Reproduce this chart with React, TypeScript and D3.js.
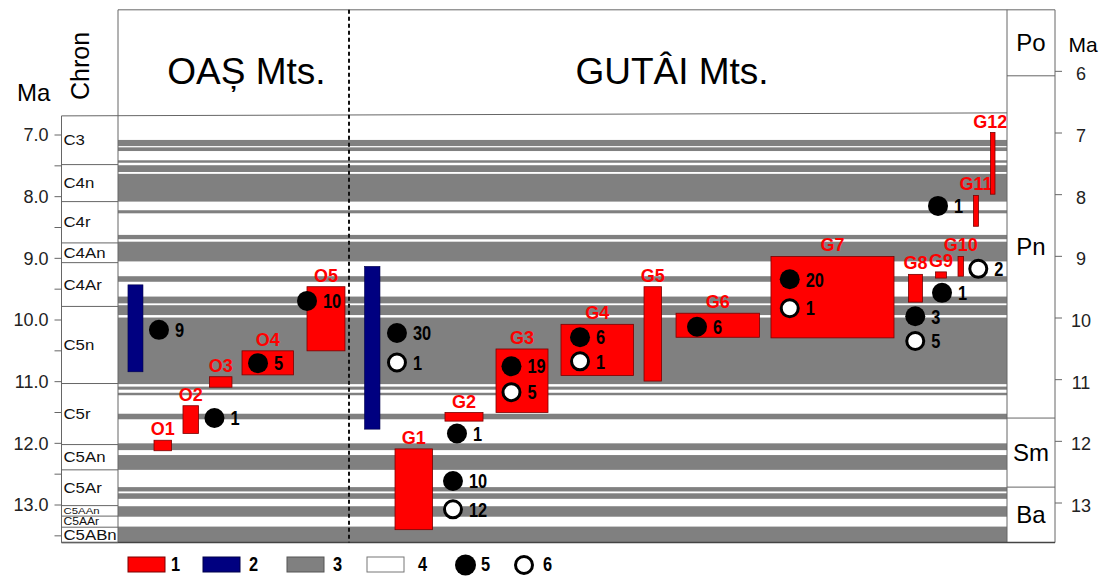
import * as d3 from "d3";
import React from "react";

// normal polarity intervals (gray), Ma
const normalChrons = [
  [7.08, 7.18], [7.2, 7.26], [7.41, 7.45], [7.49, 7.6], [7.63, 8.08],
  [8.22, 8.27], [8.62, 8.69], [8.73, 9.05], [9.29, 9.38], [9.62, 9.73],
  [9.76, 9.92], [9.96, 11.04], [11.08, 11.13], [11.18, 11.22], [11.52, 11.61],
  [12.0, 12.11], [12.19, 12.43], [12.71, 12.78], [12.81, 12.9], [13.02, 13.19],
  [13.35, 13.61],
];

const chronNames = ["C3", "C4n", "C4r", "C4An", "C4Ar", "C5n", "C5r", "C5An", "C5Ar", "C5AAn", "C5AAr", "C5ABn"];
const chronBounds = [6.69, 7.48, 8.08, 8.75, 9.07, 9.78, 11.03, 12.02, 12.43, 13.01, 13.18, 13.36, 13.61];

const epochNames = ["Po", "Pn", "Sm", "Ba"];
const epochBounds = [4.97, 6.04, 11.59, 12.71, 13.61];

const leftTicks = [7, 8, 9, 10, 11, 12, 13];
const leftMinorTicks = [7.5, 8.5, 9.5, 10.5, 11.5, 12.5, 13.5];
const rightTicks = [6, 7, 8, 9, 10, 11, 12, 13];

// 2 - blue ranges [x0, x1, top Ma, bottom Ma]
const blueRanges = [
  [1.12, 2.81, 9.43, 10.84],
  [27.73, 29.47, 9.13, 11.77],
];

// 1 - red ranges
const redNames = ["O1", "O2", "O3", "O4", "O5", "G1", "G2", "G3", "G4", "G5", "G6", "G7", "G8", "G9", "G10", "G11", "G12"];
const redX0 = [4.05, 7.31, 10.29, 13.95, 21.26, 31.16, 36.78, 42.52, 49.83, 59.17, 62.77, 73.45, 88.92, 91.96, 94.49, 96.23, 98.14];
const redX1 = [6.02, 9.06, 12.82, 19.74, 25.53, 35.38, 41.06, 48.37, 57.99, 61.14, 72.16, 87.29, 90.49, 93.19, 95.11, 96.79, 98.65];
const redTop = [11.95, 11.39, 10.92, 10.5, 9.46, 12.09, 11.5, 10.47, 10.07, 9.46, 9.89, 8.97, 9.26, 9.22, 8.97, 7.98, 6.96];
const redBottom = [12.12, 11.84, 11.09, 10.89, 10.5, 13.4, 11.64, 11.5, 10.9, 10.99, 10.28, 10.29, 9.71, 9.32, 9.29, 8.48, 7.96];

// 5 (filled) / 6 (open) symbols: [x, Ma, count]
const filledDots = [
  [4.61, 10.16, 9], [10.85, 11.59, 1], [15.75, 10.7, 5], [21.26, 9.69, 10],
  [31.38, 10.21, 30], [37.68, 12.61, 10], [38.13, 11.84, 1], [44.26, 10.75, 19],
  [51.97, 10.28, 6], [65.13, 10.11, 6], [75.56, 9.34, 20], [89.68, 9.94, 3],
  [92.69, 9.56, 1], [92.24, 8.15, 1],
];
const openDots = [
  [31.38, 10.69, 1], [37.68, 13.07, 12], [44.26, 11.17, 5], [51.97, 10.67, 1],
  [75.56, 9.81, 1], [89.68, 10.34, 5], [96.77, 9.17, 2],
];

const legendLabels = ["1", "2", "3", "4", "5", "6"];

const red = "#ff0000";
const navy = "#000080";
const gray = "#808080";
const frame = "#666";
const sans = "'Liberation Sans', Arial, sans-serif";

// narrow bold numbers (squeezed horizontally)
const Num = ({ x, y, children, size = 20 }) => (
  <text
    transform={`translate(${x}, ${y}) scale(0.82, 1)`}
    dy="0.36em"
    fontSize={size}
    fontWeight="bold"
  >
    {children}
  </text>
);

const App = () => {
  const width = 1103;
  const height = 576;

  const y = d3.scaleLinear().domain([7, 13]).range([135, 505]);
  const x = d3.scaleLinear().domain([0, 100]).range([118, 1007]);

  const plotL = x(0);
  const plotR = x(100);
  const chronL = 61.5;
  const epochR = 1055;
  const top = y(epochBounds[0]);
  const chartTop = y(chronBounds[0]);
  const bottom = y(chronBounds[chronBounds.length - 1]);
  const dashX = 349;
  const legY = 564;

  return (
    <svg
      width={width}
      height={height}
      style={{ position: "absolute", left: 0, top: 0, background: "#fff" }}
      fontFamily={sans}
    >
      {/* polarity bands */}
      {normalChrons.map((d, i) => (
        <rect key={"b" + i} x={plotL} y={y(d[0])} width={plotR - plotL} height={y(d[1]) - y(d[0])} fill={gray} />
      ))}

      {/* header box + frame */}
      <line x1={plotL} x2={epochR} y1={top} y2={top} stroke={frame} />
      <line x1={plotL} x2={plotL} y1={top} y2={bottom} stroke={frame} />
      <line x1={plotR} x2={plotR} y1={top} y2={bottom} stroke={frame} />
      <line x1={epochR} x2={epochR} y1={top} y2={bottom} stroke={frame} />
      <line x1={chronL} x2={plotR} y1={chartTop} y2={chartTop - 3} stroke={frame} />
      <line x1={chronL} x2={epochR} y1={bottom} y2={bottom} stroke="#444" strokeWidth={1.5} />
      <line x1={chronL} x2={chronL} y1={chartTop} y2={bottom} stroke={frame} />
      <line x1={dashX} x2={dashX} y1={top} y2={bottom} stroke="#111" strokeWidth={2} strokeDasharray="4,3" />

      <text x={246.5} y={84} fontSize={37} textAnchor="middle">OAȘ Mts.</text>
      <text x={672} y={84} fontSize={37} textAnchor="middle">GUTÂI Mts.</text>

      {/* chron column */}
      {chronNames.map((c, i) => {
        const y0 = y(chronBounds[i]);
        const y1 = y(chronBounds[i + 1]);
        const fs = Math.min(14, y1 - y0 - 1);
        return (
          <g key={c}>
            <line x1={chronL} x2={plotL} y1={y1} y2={y1} stroke={frame} />
            <text
              transform={`translate(${chronL + 2}, ${(y0 + y1) / 2}) scale(1.2, 1)`}
              dy="0.36em"
              fontSize={fs}
              fill="#111"
            >
              {c}
            </text>
          </g>
        );
      })}

      {/* left axis */}
      {leftTicks.map((t) => (
        <g key={"lt" + t}>
          <line x1={chronL - 7} x2={chronL} y1={y(t)} y2={y(t)} stroke={frame} />
          <text x={chronL - 13} y={y(t)} dy="0.35em" fontSize={18} textAnchor="end" fill="#222">
            {t.toFixed(1)}
          </text>
        </g>
      ))}
      {leftMinorTicks.map((t) => (
        <line key={"lm" + t} x1={chronL - 7} x2={chronL} y1={y(t)} y2={y(t)} stroke={frame} />
      ))}
      <text x={17} y={101} fontSize={24}>Ma</text>
      <text transform="translate(89, 66) rotate(-90)" fontSize={25} textAnchor="middle">Chron</text>

      {/* epoch column */}
      {epochNames.map((e, i) => {
        const y0 = y(epochBounds[i]);
        const y1 = y(epochBounds[i + 1]);
        return (
          <g key={e}>
            {i > 0 && <line x1={plotR} x2={epochR} y1={y0} y2={y0} stroke={frame} />}
            <text x={(plotR + epochR) / 2} y={(y0 + y1) / 2} dy="0.35em" fontSize={24} textAnchor="middle">
              {e}
            </text>
          </g>
        );
      })}

      {/* right axis */}
      {rightTicks.map((t) => (
        <g key={"rt" + t}>
          <line x1={epochR} x2={epochR + 7} y1={y(t) - 2} y2={y(t) - 2} stroke={frame} />
          <text x={epochR + 26} y={y(t)} dy="0.38em" fontSize={18} textAnchor="middle" fill="#222">
            {t}
          </text>
        </g>
      ))}
      <text x={1083} y={52} fontSize={21} textAnchor="middle">Ma</text>

      {/* blue ranges */}
      {blueRanges.map((d, i) => (
        <rect
          key={"bl" + i}
          x={x(d[0])}
          y={y(d[2])}
          width={x(d[1]) - x(d[0])}
          height={y(d[3]) - y(d[2])}
          fill={navy}
          stroke="#00004a"
          strokeWidth={0.6}
        />
      ))}

      {/* red ranges */}
      {redNames.map((n, i) => {
        const x0 = x(redX0[i]);
        const x1 = x(redX1[i]);
        return (
          <g key={n}>
            <rect
              x={x0}
              y={y(redTop[i])}
              width={x1 - x0}
              height={y(redBottom[i]) - y(redTop[i])}
              fill={red}
              stroke="#7a0000"
              strokeWidth={0.8}
            />
            <text
              x={Math.min((x0 + x1) / 2, plotR - n.length * 5.6)}
              y={y(redTop[i]) - 5}
              fontSize={18}
              fontWeight="bold"
              fill={red}
              textAnchor="middle"
            >
              {n}
            </text>
          </g>
        );
      })}

      {/* symbols */}
      {filledDots.map((d, i) => (
        <g key={"f" + i}>
          <circle cx={x(d[0])} cy={y(d[1])} r={10} fill="#000" />
          <Num x={x(d[0]) + 16} y={y(d[1])}>{d[2]}</Num>
        </g>
      ))}
      {openDots.map((d, i) => (
        <g key={"o" + i}>
          <circle cx={x(d[0])} cy={y(d[1])} r={8.5} fill="#fff" stroke="#000" strokeWidth={3} />
          <Num x={x(d[0]) + 16} y={y(d[1])}>{d[2]}</Num>
        </g>
      ))}

      {/* legend */}
      <g>
        <rect x={128} y={557} width={37} height={15} fill={red} stroke="#7a0000" />
        <Num x={171} y={legY} size={20}>{legendLabels[0]}</Num>
        <rect x={203} y={557} width={37} height={15} fill={navy} stroke="#00004a" />
        <Num x={249} y={legY} size={20}>{legendLabels[1]}</Num>
        <rect x={287} y={557} width={37} height={15} fill={gray} stroke="#555" />
        <Num x={333} y={legY} size={20}>{legendLabels[2]}</Num>
        <rect x={367} y={557} width={37} height={15} fill="#fff" stroke="#777" />
        <Num x={418} y={legY} size={20}>{legendLabels[3]}</Num>
        <circle cx={465.5} cy={565} r={10.5} fill="#000" />
        <Num x={481} y={legY} size={20}>{legendLabels[4]}</Num>
        <circle cx={524} cy={565} r={8.5} fill="#fff" stroke="#000" strokeWidth={3} />
        <Num x={543} y={legY} size={20}>{legendLabels[5]}</Num>
      </g>
    </svg>
  );
};

export default App;
